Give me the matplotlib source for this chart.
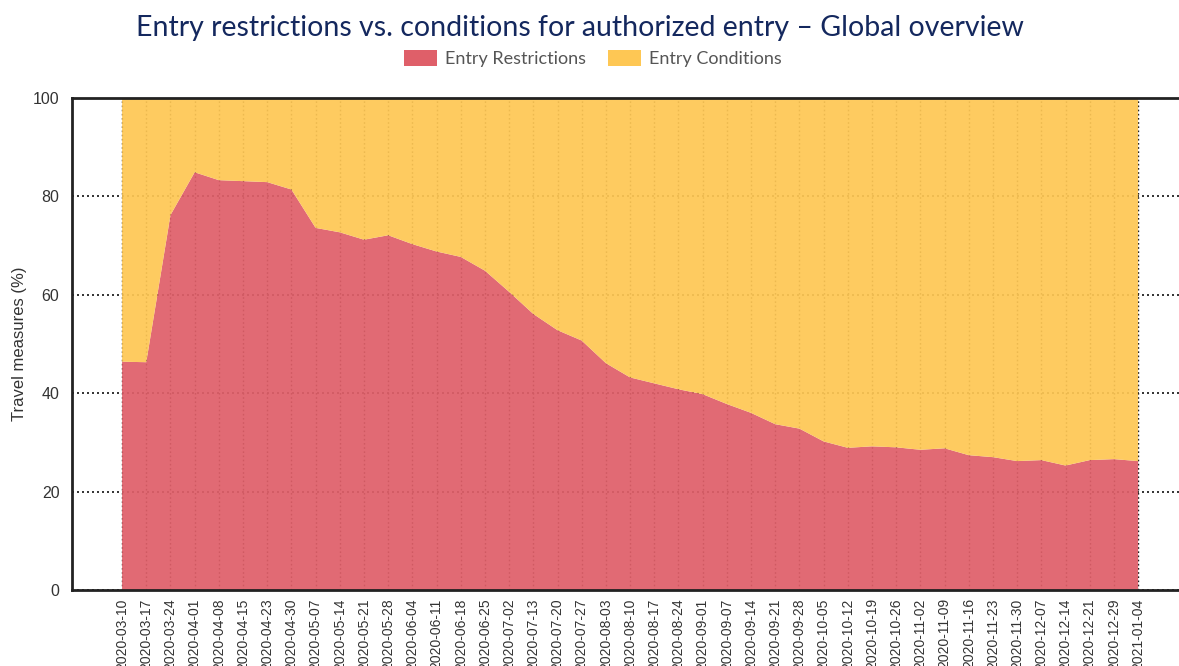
import matplotlib
matplotlib.use("Agg")
import matplotlib.pyplot as plt
from matplotlib.patches import Patch

dates = ["2020-03-10", "2020-03-17", "2020-03-24", "2020-04-01", "2020-04-08", "2020-04-15",
         "2020-04-23", "2020-04-30", "2020-05-07", "2020-05-14", "2020-05-21", "2020-05-28",
         "2020-06-04", "2020-06-11", "2020-06-18", "2020-06-25", "2020-07-02", "2020-07-13",
         "2020-07-20", "2020-07-27", "2020-08-03", "2020-08-10", "2020-08-17", "2020-08-24",
         "2020-09-01", "2020-09-07", "2020-09-14", "2020-09-21", "2020-09-28", "2020-10-05",
         "2020-10-12", "2020-10-19", "2020-10-26", "2020-11-02", "2020-11-09", "2020-11-16",
         "2020-11-23", "2020-11-30", "2020-12-07", "2020-12-14", "2020-12-21", "2020-12-29",
         "2021-01-04"]

restrictions = [46.4, 46.3, 76.2, 84.9, 83.3, 83.1, 82.9, 81.4, 73.6, 72.7, 71.2, 72.1,
                70.3, 68.8, 67.7, 64.9, 60.6, 56.1, 52.8, 50.7, 46.1, 43.2, 42.0, 40.8,
                39.8, 37.8, 36.0, 33.7, 32.8, 30.2, 28.9, 29.2, 29.0, 28.5, 28.8, 27.4,
                27.0, 26.2, 26.4, 25.3, 26.4, 26.6, 26.2]

conditions = [53.6, 53.7, 23.8, 15.1, 16.7, 16.9, 17.1, 18.6, 26.4, 27.3, 28.8, 27.9,
              29.7, 31.2, 32.3, 35.1, 39.4, 43.9, 47.2, 49.3, 53.9, 56.8, 58.0, 59.2,
              60.2, 62.2, 64.0, 66.3, 67.2, 69.8, 71.1, 70.8, 71.0, 71.5, 71.2, 72.6,
              73.0, 73.8, 73.6, 74.7, 73.6, 73.4, 73.8]

series_labels = ["Entry Restrictions", "Entry Conditions"]
y_ticks = [0, 20, 40, 60, 80, 100]

title = "Entry restrictions vs. conditions for authorized entry \u2013 Global overview"
y_label = "Travel measures (%)"

RED = "#df5f69"
YELLOW = "#fec754"

fig = plt.figure(figsize=(11.79, 6.66), dpi=100)
ax = fig.add_axes([72 / 1179, 76 / 666, (1179 - 72) / 1179, (590 - 98) / 666])

x = list(range(len(dates)))
ax.stackplot(x, restrictions, conditions, colors=[RED, YELLOW], alpha=0.93,
             zorder=2, linewidth=0)

ax.set_xlim(-2.07, 43.69)
ax.set_ylim(0, 100)
ax.set_yticks(y_ticks)
ax.set_xticks(x)
ax.set_xticklabels(dates, rotation=90, fontsize=10, color="#333333",
                   family="Liberation Sans")
ax.set_yticklabels([str(v) for v in y_ticks], fontsize=11.5, color="#333333",
                   family="Liberation Sans")
ax.tick_params(axis="both", length=0)
ax.tick_params(axis="y", pad=9)
ax.tick_params(axis="x", pad=6)

ax.grid(True, which="major", axis="y", linestyle=(0, (1.2, 1.8)), color="#111111",
        linewidth=1.2, zorder=1)
ax.grid(True, which="major", axis="x", linestyle=(0, (1.2, 1.8)), color="#111111",
        linewidth=1.0, zorder=1)
ax.set_axisbelow(True)

ax.spines["right"].set_visible(False)
for side in ["left", "top", "bottom"]:
    ax.spines[side].set_linewidth(2.0)
    ax.spines[side].set_color("#222222")
    ax.spines[side].set_zorder(5)

ax.set_ylabel(y_label, fontsize=12, color="#333333", family="Liberation Sans")
ax.yaxis.set_label_coords(-0.041, 0.5)

fig.text(0.492, 0.958, title, ha="center", va="center", fontsize=20.5,
         color="#14285e", family="Lato")

handles = [Patch(facecolor=RED, edgecolor="none"), Patch(facecolor=YELLOW, edgecolor="none")]
leg = fig.legend(handles, series_labels, loc="center", bbox_to_anchor=(0.503, 0.912),
                 ncol=2, frameon=False, handlelength=1.8,
                 handleheight=1.0, handletextpad=0.45, columnspacing=1.25,
                 prop={"family": "Lato", "size": 13})
for t in leg.get_texts():
    t.set_color("#555555")

fig.savefig("out.png", dpi=100)
